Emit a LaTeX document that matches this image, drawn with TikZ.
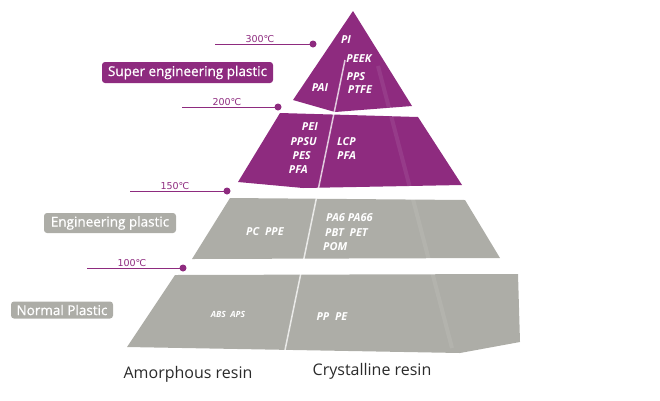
\documentclass[tikz,border=0pt]{standalone}
\usepackage{fontspec}
\setmainfont{Open Sans}
\newfontfamily\boxfont{Open Sans}[FakeBold=0.7]
\newfontfamily\degfont{DejaVu Sans}
\definecolor{purp}{HTML}{8E2B7F}
\definecolor{stone}{HTML}{ADADA7}
\definecolor{ink}{HTML}{2A2A2A}
\begin{document}
\begin{tikzpicture}[x=1pt, y=-1pt,
    resin/.style={font=\bfseries\itshape\fontsize{11}{12}\selectfont, text=white, inner sep=0pt},
    grade/.style={rounded corners=3pt, text=white, font=\boxfont\fontsize{13.5}{15}\selectfont, inner sep=0pt},
    temp/.style={font=\degfont\fontsize{9.5}{10}\selectfont, text=purp, inner sep=0pt},
    tline/.style={purp, line width=0.9pt}]
    \useasboundingbox (0,0) rectangle (660,400);

    % 段
    \fill[purp] (353,11) -- (412,106) -- (335,112) -- (293,100) -- cycle;
    \fill[purp] (280,113) -- (418,117) -- (462,185) -- (303,188) -- (238,182) -- cycle;
    \fill[stone] (230,198) -- (465,200) -- (500,258) -- (192,259) -- cycle;
    \fill[stone] (175,275) -- (518,274) -- (520,342) -- (460,353) -- (127,347) -- cycle;

    % 光の帯と仕切り線
    \coordinate (hltop) at (378,66);
    \coordinate (hlbot) at (452,348);
    \draw[white, opacity=0.08, line width=4pt] (hltop) -- (hlbot);
    \coordinate (divtop) at (345,60);
    \coordinate (divbot) at (285,350);
    \draw[white, opacity=0.75, line width=1.5pt] (divtop) -- (divbot);

    % 温度の目盛り
    \coordinate (s300) at (215,44);  \coordinate (d300) at (313,44);
    \coordinate (s200) at (182,107); \coordinate (d200) at (278,107);
    \coordinate (s150) at (130,191); \coordinate (d150) at (227,191);
    \coordinate (s100) at (87,268);  \coordinate (d100) at (183,268);
    \foreach \t in {300,200,150,100} {
        \draw[tline] (s\t) -- (d\t);
        \fill[purp] (d\t) circle (3.5pt);
    }
    \node[temp] (t300) at (260,39) {300℃};
    \node[temp] (t200) at (227,102) {200℃};
    \node[temp] (t150) at (175,186) {150℃};
    \node[temp] (t100) at (132,263) {100℃};

    % 区分ラベル
    \node[grade, fill=purp, minimum width=171pt, minimum height=21pt] (super) at (187.5,72.5) {Super engineering plastic};
    \node[grade, fill=stone, minimum width=132pt, minimum height=20pt] (eng) at (110,223) {Engineering plastic};
    \node[grade, fill=stone, minimum width=102pt, minimum height=17pt] (normal) at (62,310) {Normal Plastic};

    % 樹脂名
    \node[resin] (pi) at (346,40) {PI};
    \node[resin] (peek) at (359,59) {PEEK};
    \node[resin] (pps) at (356,77) {PPS};
    \node[resin] (ptfe) at (360,90) {PTFE};
    \node[resin] (pai) at (320,88) {PAI};
    \node[resin, anchor=east] (pei) at (318,127) {PEI};
    \node[resin, anchor=east] (ppsu) at (317,142) {PPSU};
    \node[resin, anchor=east] (pes) at (311,156) {PES};
    \node[resin, anchor=east] (pfaa) at (308,170) {PFA};
    \node[resin, anchor=west] (lcp) at (337,142) {LCP};
    \node[resin, anchor=west] (pfac) at (337,156) {PFA};
    \node[resin] (pcppe) at (265,232) {PC\ \ PPE};
    \node[resin, anchor=west] (pa) at (326,218) {PA6 PA66};
    \node[resin, anchor=west] (pbt) at (325,233) {PBT\ \ PET};
    \node[resin, anchor=west] (pom) at (323,247) {POM};
    \node[resin, font=\bfseries\itshape\fontsize{8.5}{9}\selectfont] (abs) at (228,314) {ABS\ \ APS};
    \node[resin] (pp) at (332,317) {PP\ \ PE};

    % 下の見出し
    \node[text=ink, font=\fontsize{16}{18}\selectfont] (amor) at (188,374) {Amorphous resin};
    \node[text=ink, font=\fontsize{16}{18}\selectfont] (cryst) at (372,371) {Crystalline resin};
\end{tikzpicture}
\end{document}
